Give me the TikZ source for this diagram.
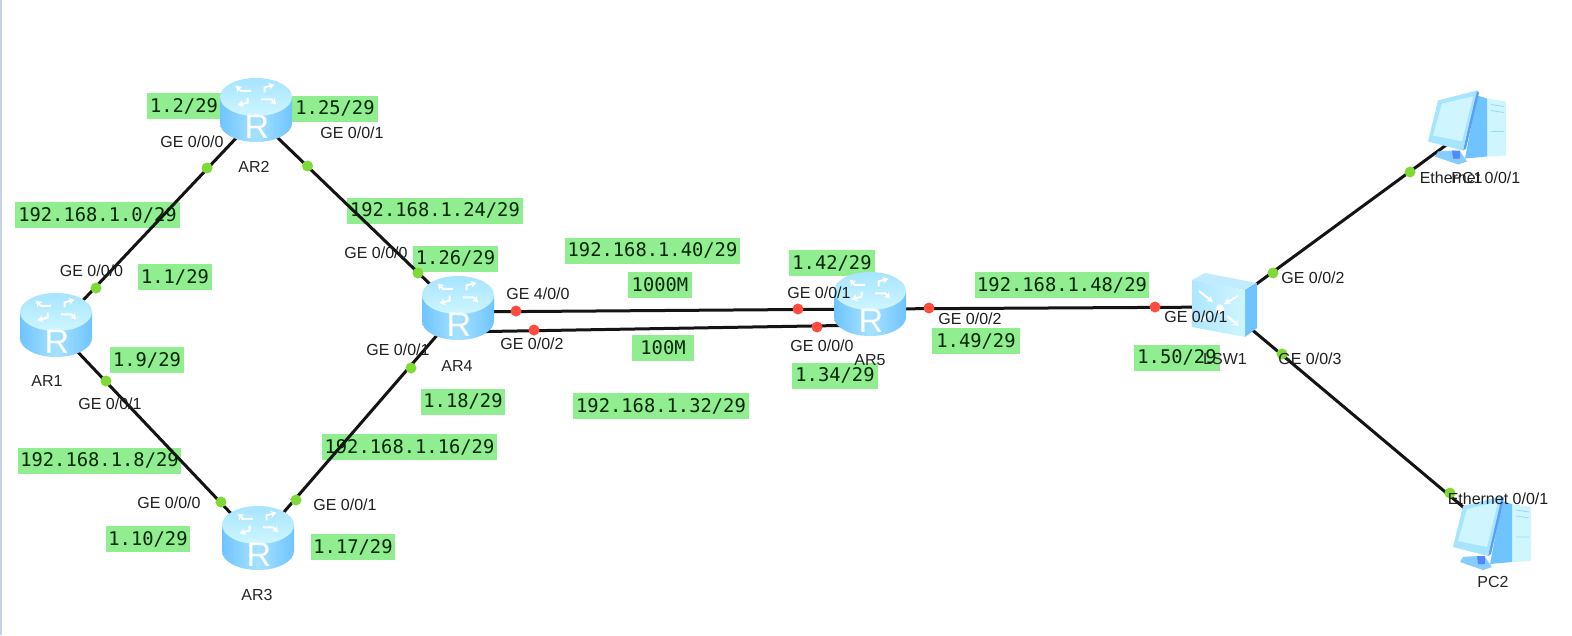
\documentclass[tikz,border=0pt]{standalone}
\usepackage{fontspec}
\setmainfont{Liberation Sans}
\newfontfamily\monof{DejaVu Sans Mono}
\usetikzlibrary{arrows.meta,calc}
\pgfdeclarelayer{lbl}\pgfdeclarelayer{links}
\pgfsetlayers{lbl,links,main}
\definecolor{boxg}{HTML}{90EE90}
\definecolor{portg}{HTML}{7FD936}
\definecolor{portr}{HTML}{FF4B40}
\definecolor{skyL}{HTML}{6FC4FF}
\definecolor{skyM}{HTML}{A6E2FF}
\definecolor{skyT}{HTML}{A6E4FF}
\definecolor{skyB}{HTML}{CFF6FF}
\definecolor{edgeb}{HTML}{C7D3E6}
\tikzset{
 lnk/.style={line width=3pt,draw=black!92},
 anchorbox/.style={inner sep=0pt,minimum size=2pt},
 glabel/.style={fill=boxg,text=black!85!green,inner sep=0pt,minimum height=26pt,font=\monof\fontsize{18.8}{20}\selectfont},
 plabel/.style={inner sep=0pt,text=black!88,font=\fontsize{16}{18}\selectfont},
 nlabel/.style={inner sep=0pt,text=black!85,font=\fontsize{16}{18}\selectfont},
 gdot/.style={circle,fill=portg,inner sep=0pt,minimum size=11pt},
 rdot/.style={circle,fill=portr,inner sep=0pt,minimum size=11pt},
 wheel/.style={draw=white,line width=2pt,-{Stealth[length=6pt,width=7pt]}},
}
% #1 name, #2,#3 link point, #4,#5 icon centre
\newcommand{\routerIcon}[5]{%
 \node[anchorbox] (#1) at (#2,#3) {};
 \begin{scope}[shift={(#4,#5)}]
  \path[left color=skyL,right color=skyL,middle color=skyM]
   (-36,-13) -- (-36,13) arc[start angle=180,end angle=360,x radius=36pt,y radius=19pt] -- (36,-13) -- cycle;
  \path[top color=skyT,bottom color=skyB] (0,-13) ellipse[x radius=36pt,y radius=19pt];
  \begin{scope}[shift={(0,-15)},xscale=1.7,yscale=.85]
   \foreach \a in {0,90,180,270}{
    \begin{scope}[rotate=\a]
     \draw[wheel] (3,5) -- (9,5) -- (12,11);
    \end{scope}}
  \end{scope}
  \node[inner sep=0pt,text=white,font=\fontsize{34}{34}\selectfont] (#1R) at (1,17) {R};
 \end{scope}}
% #1 name, #2,#3 link point, #4,#5 icon origin
\newcommand{\pcIcon}[5]{%
 \node[anchorbox] (#1) at (#2,#3) {};
 \begin{scope}[shift={(#4,#5)}]
  \fill[skyB] (22,-30) -- (41,-27) -- (41,27) -- (22,28) -- cycle;
  \fill[skyL] (12,-33) -- (22,-30) -- (22,28) -- (0,30) -- cycle;
  \fill[skyL!85] (-27,23) -- (-13,22) -- (-5,23) -- (2,33) -- (-7,36) -- (-30,28) -- cycle;
  \fill[skyL!70!blue] (-13,22) -- (-5,22) -- (-5,30) -- (-12,30) -- cycle;
  \fill[skyL!80!blue] (11,-38) -- (14,-36) -- (1,20) -- (-2,22) -- cycle;
  \fill[skyT] (-37,13) -- (-27,-28) -- (12,-38) -- (-2,22) -- cycle;
  \fill[skyB] (-32,7) -- (-23,-25) -- (8,-32) -- (-3,13) -- cycle;
  \draw[skyL!70,line width=.8pt] (26,-24) -- (39,-22) (26,-18) -- (39,-16) (26,3) -- (39,3);
 \end{scope}}
\newcommand{\switchIcon}[3]{%
 \node[anchorbox] (#1) at (#2,#3) {};
 \begin{scope}[shift={(#2,#3)}]
  \fill[skyM!70!white] (-33,-27) -- (-20,-34) -- (32,-24) -- (20,-17) -- cycle;
  \fill[skyL] (20,-17) -- (32,-24) -- (32,21) -- (20,30) -- cycle;
  \path[left color=skyM!90!white,right color=skyB] (-33,-27) -- (20,-17) -- (20,30) -- (-33,20) -- cycle;
  \draw[wheel] (-26,-16) -- (-12,-5);
  \draw[wheel] (13,-11) -- (-1,-3);
  \draw[wheel] (-13,6) -- (-25,14);
  \draw[wheel] (2,9) -- (14,19);
  \fill[white] (-5,2) circle[radius=4.5pt];
 \end{scope}}
\begin{document}
\begin{tikzpicture}[x=1pt,y=-1pt]
\useasboundingbox (0,0) rectangle (1572,635);
\begin{pgfonlayer}{lbl}
\fill[white] (0,0) rectangle (1572,635);
\fill[edgeb] (0,0) rectangle (1.5,635);
\end{pgfonlayer}
% devices
\routerIcon{AR1}{56}{329}{56}{325}
\routerIcon{AR2}{256}{117}{256}{110}
\routerIcon{AR3}{258}{542}{258}{538}
\routerIcon{AR4}{458}{311}{458}{308}
\routerIcon{AR5}{870}{309}{870}{304}
\switchIcon{LSW}{1225}{307}
\pcIcon{PC1}{1466.7}{130}{1465}{128.5}
\pcIcon{PC2}{1491.7}{531}{1490}{534}
% connectors
\begin{pgfonlayer}{links}
 \draw[lnk] (AR1.center) -- (AR2.center);
 \draw[lnk] (AR2.center) -- (AR4.center);
 \draw[lnk] (AR1.center) -- (AR3.center);
 \draw[lnk] (AR3.center) -- (AR4.center);
 \draw[lnk] ([shift={(0,1)}]AR4.center) -- ([shift={(0,0)}]AR5.center);
 \draw[lnk] ([shift={(0,21)}]AR4.center) -- ([shift={(0,16)}]AR5.center);
 \draw[lnk] (AR5.center) -- (LSW.center);
 \draw[lnk] (LSW.center) -- (PC1.center);
 \draw[lnk] (LSW.center) -- (PC2.center);
\end{pgfonlayer}
% port dots
\foreach \n/\p in {g1/{96,288},g2/{207,168},g3/{307.5,166},g4/{418,273},g5/{106,381},g6/{221,502},g7/{296,500},g8/{411,368},g9/{1273,273},g10/{1410,172},g11/{1282,354},g12/{1450,493}}
 \node[gdot] (\n) at (\p) {};
\foreach \n/\p in {r1/{516,311},r2/{798,309},r3/{534,330},r4/{817,327},r5/{929,308},r6/{1155,307}}
 \node[rdot] (\n) at (\p) {};
% green labels
\begin{pgfonlayer}{lbl}
 \node[glabel,minimum width=74pt] (a1) at (184,106) {1.2/29};
 \node[glabel,minimum width=86pt] (a2) at (335,108.5) {1.25/29};
 \node[glabel,minimum width=165pt] (a3) at (97.5,215) {192.168.1.0/29};
 \node[glabel,minimum width=176pt] (a4) at (435,210.5) {192.168.1.24/29};
 \node[glabel,minimum width=74pt] (a5) at (175,277) {1.1/29};
 \node[glabel,minimum width=85pt] (a6) at (455.5,258.5) {1.26/29};
 \node[glabel,minimum width=175pt] (a7) at (652.5,250.5) {192.168.1.40/29};
 \node[glabel,minimum width=64pt] (a8) at (660,285) {1000M};
 \node[glabel,minimum width=86pt] (a9) at (832,263) {1.42/29};
 \node[glabel,minimum width=174pt] (a10) at (1062,285) {192.168.1.48/29};
 \node[glabel,minimum width=88pt] (a11) at (976,341) {1.49/29};
 \node[glabel,minimum width=86pt] (a12) at (1177,357.5) {1.50/29};
 \node[glabel,minimum width=74pt] (a13) at (147,360) {1.9/29};
 \node[glabel,minimum width=84pt] (a14) at (463,401.5) {1.18/29};
 \node[glabel,minimum width=175pt] (a15) at (409.5,447) {192.168.1.16/29};
 \node[glabel,minimum width=163pt] (a16) at (99.5,460.5) {192.168.1.8/29};
 \node[glabel,minimum width=62pt] (a17) at (663,347.5) {100M};
 \node[glabel,minimum width=176pt] (a18) at (661,406) {192.168.1.32/29};
 \node[glabel,minimum width=86pt] (a19) at (835,375.5) {1.34/29};
 \node[glabel,minimum width=84pt] (a20) at (148,539) {1.10/29};
 \node[glabel,minimum width=84pt] (a21) at (353,547) {1.17/29};
\end{pgfonlayer}
% device names
\node[nlabel] (t1) at (47,381) {AR1};
\node[nlabel] (t2) at (254,167) {AR2};
\node[nlabel] (t3) at (257,595) {AR3};
\node[nlabel] (t4) at (457,366) {AR4};
\node[nlabel] (t5) at (870,360) {AR5};
\node[nlabel] (t6) at (1225,359) {LSW1};
\node[nlabel] (t7) at (1467,178) {PC1};
\node[nlabel] (t8) at (1493,582) {PC2};
% port names
\node[plabel] (p1) at (192,142) {GE 0/0/0};
\node[plabel] (p2) at (352,133) {GE 0/0/1};
\node[plabel] (p3) at (91.5,271) {GE 0/0/0};
\node[plabel] (p4) at (376,253) {GE 0/0/0};
\node[plabel] (p5) at (398,350) {GE 0/0/1};
\node[plabel] (p6) at (538,294) {GE 4/0/0};
\node[plabel] (p7) at (532,344) {GE 0/0/2};
\node[plabel] (p8) at (110,404) {GE 0/0/1};
\node[plabel] (p9) at (169,503) {GE 0/0/0};
\node[plabel] (p10) at (345,505) {GE 0/0/1};
\node[plabel] (p11) at (819,293) {GE 0/0/1};
\node[plabel] (p12) at (822,346) {GE 0/0/0};
\node[plabel] (p13) at (970,319) {GE 0/0/2};
\node[plabel] (p14) at (1196,317) {GE 0/0/1};
\node[plabel] (p15) at (1313,278) {GE 0/0/2};
\node[plabel] (p16) at (1310,359) {GE 0/0/3};
\node[plabel] (p17) at (1470,178) {Ethernet 0/0/1};
\node[plabel] (p18) at (1498,499) {Ethernet 0/0/1};
\end{tikzpicture}
\end{document}
